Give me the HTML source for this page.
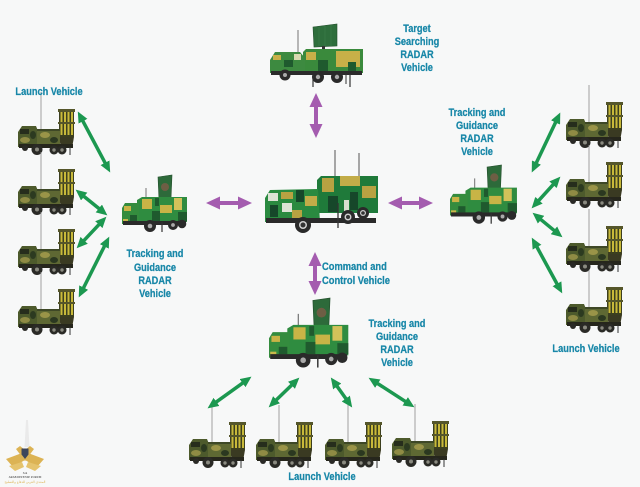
<!DOCTYPE html>
<html>
<head>
<meta charset="utf-8">
<style>
  html,body{margin:0;padding:0;background:#f7f8f8;}
  svg{display:block;}
  .lbl{font-family:"Liberation Sans",Arial,sans-serif;font-weight:bold;font-size:11px;fill:#1887a8;stroke:#1887a8;stroke-width:0.25;}
</style>
</head>
<body>
<svg width="640" height="487" viewBox="0 0 640 487" xmlns="http://www.w3.org/2000/svg">
  <defs>
    <marker id="gh" viewBox="0 0 11 10" refX="5.5" refY="5" markerWidth="11" markerHeight="10" markerUnits="userSpaceOnUse" orient="auto-start-reverse">
      <path d="M0,0 L11,5 L0,10 z" fill="#1c9850"/>
    </marker>
    <marker id="ph" viewBox="0 0 14 13" refX="7" refY="6.5" markerWidth="14" markerHeight="13" markerUnits="userSpaceOnUse" orient="auto-start-reverse">
      <path d="M0,0 L14,6.5 L0,13 z" fill="#a45caf"/>
    </marker>

    <!-- Launch vehicle -->
    <g id="lv">
      <line x1="24" y1="-18" x2="24" y2="20" stroke="#8a8a8a" stroke-width="0.8"/>
      <rect x="42" y="0" width="15" height="27" fill="#3c3f1f"/>
      <rect x="43.5" y="2" width="2" height="23" fill="#c8b93a"/>
      <rect x="47" y="2" width="2" height="23" fill="#c8b93a"/>
      <rect x="50.5" y="2" width="2" height="23" fill="#c8b93a"/>
      <rect x="54" y="2" width="2" height="23" fill="#c8b93a"/>
      <rect x="41" y="-1" width="17" height="3" fill="#55562a"/>
      <rect x="41" y="12" width="17" height="2" fill="#55562a"/>
      <polygon points="42,27 57,27 55,38 44,38" fill="#3a3a22"/>
      <polygon points="1,22 5,16 19,16 21,21 21,37 1,37" fill="#4d5a2c"/>
      <rect x="3" y="19" width="9" height="5" fill="#262d1c"/>
      <ellipse cx="8" cy="30" rx="5" ry="3" fill="#8f8b44"/>
      <ellipse cx="16" cy="25" rx="3" ry="4" fill="#2c3a20"/>
      <rect x="20" y="20" width="23" height="15" fill="#5e6833"/>
      <rect x="20" y="19" width="23" height="2" fill="#3e4826"/>
      <ellipse cx="28" cy="25" rx="5" ry="3" fill="#9a9448"/>
      <ellipse cx="37" cy="30" rx="4" ry="3" fill="#2b3820"/>
      <rect x="2" y="34" width="54" height="4" fill="#26261c"/>
      <circle cx="20" cy="39.5" r="5.5" fill="#2a2a26"/><circle cx="20" cy="39.5" r="2" fill="#8a8a80"/>
      <circle cx="37" cy="40" r="4.5" fill="#2a2a26"/><circle cx="37" cy="40" r="1.7" fill="#8a8a80"/>
      <circle cx="45" cy="40" r="4.5" fill="#2a2a26"/><circle cx="45" cy="40" r="1.7" fill="#8a8a80"/>
      <circle cx="8" cy="38" r="3" fill="#2a2a26"/>
      <line x1="53" y1="37" x2="53" y2="45" stroke="#333" stroke-width="1"/>
    </g>

    <!-- Tracking & guidance radar vehicle -->
    <g id="tr">
      <line x1="24" y1="13" x2="24" y2="33" stroke="#666" stroke-width="0.9"/>
      <polygon points="36,2 50,0 49,24 37,25" fill="#2d6a3a" stroke="#24502d" stroke-width="0.6"/>
      <circle cx="43" cy="12" r="4" fill="#8a5a48" opacity="0.7"/>
      <rect x="42" y="24" width="2" height="6" fill="#333"/>
      <polygon points="15,25 20,22 65,22 65,47 15,47" fill="#2f8c40"/>
      <rect x="20" y="24" width="10" height="10" fill="#c8b446"/>
      <rect x="38" y="30" width="12" height="8" fill="#c8b446"/>
      <rect x="52" y="23" width="8" height="12" fill="#d2c25a"/>
      <rect x="30" y="36" width="8" height="10" fill="#1f5a2e"/>
      <rect x="56" y="37" width="9" height="9" fill="#1f5a2e"/>
      <rect x="33" y="23" width="4" height="8" fill="#1f5a2e"/>
      <polygon points="0,33 3,28 17,28 17,49 0,49" fill="#348c3e"/>
      <rect x="2" y="31" width="7" height="5" fill="#c8b446"/>
      <rect x="8" y="40" width="7" height="6" fill="#1f5a2e"/>
      <rect x="1" y="44" width="5" height="4" fill="#c9b84a"/>
      <rect x="1" y="46" width="63" height="4" fill="#2a2a2a"/>
      <circle cx="28" cy="51" r="6" fill="#2a2a2a"/><circle cx="28" cy="51" r="2.3" fill="#aaa"/>
      <circle cx="51" cy="50" r="5" fill="#2a2a2a"/><circle cx="51" cy="50" r="1.9" fill="#aaa"/>
      <circle cx="60" cy="49" r="4.3" fill="#2a2a2a"/>
      <line x1="40" y1="47" x2="40" y2="57" stroke="#333" stroke-width="1.2"/>
    </g>
  </defs>

  <rect x="0" y="0" width="640" height="487" fill="#f7f8f8"/>

  <!-- Launch vehicles left -->
  <use href="#lv" transform="translate(17,110)"/>
  <use href="#lv" transform="translate(17,170)"/>
  <use href="#lv" transform="translate(17,230)"/>
  <use href="#lv" transform="translate(17,290)"/>
  <!-- Launch vehicles right -->
  <use href="#lv" transform="translate(565,103)"/>
  <use href="#lv" transform="translate(565,163)"/>
  <use href="#lv" transform="translate(565,227)"/>
  <use href="#lv" transform="translate(565,288)"/>
  <!-- Launch vehicles bottom -->
  <use href="#lv" transform="translate(188,423)"/>
  <use href="#lv" transform="translate(255,423)"/>
  <use href="#lv" transform="translate(324,423)"/>
  <use href="#lv" transform="translate(391,422)"/>

  <!-- Tracking radar vehicles -->
  <use href="#tr" transform="translate(122,175)"/>
  <use href="#tr" transform="translate(450,165) scale(1.03)"/>
  <use href="#tr" transform="translate(269,298) scale(1.22)"/>

  <!-- Target searching radar vehicle (top) -->
  <g>
    <line x1="298" y1="30" x2="298" y2="55" stroke="#666" stroke-width="0.9"/>
    <polygon points="313,27 337,24 337,46 314,47" fill="#2e6e3c" stroke="#24502d" stroke-width="0.6"/>
    <line x1="319" y1="27" x2="319" y2="46" stroke="#3d7f4a" stroke-width="0.6"/>
    <line x1="325" y1="26" x2="325" y2="46" stroke="#3d7f4a" stroke-width="0.6"/>
    <line x1="331" y1="25" x2="331" y2="46" stroke="#3d7f4a" stroke-width="0.6"/>
    <rect x="322" y="46" width="3" height="8" fill="#333"/>
    <polygon points="303,52 306,49 363,49 363,73 303,73" fill="#3a8a3c"/>
    <rect x="336" y="51" width="24" height="16" fill="#c8b048"/>
    <rect x="306" y="52" width="10" height="8" fill="#c8b048"/>
    <rect x="318" y="60" width="10" height="12" fill="#1f5a2e"/>
    <rect x="348" y="62" width="8" height="10" fill="#1f5a2e"/>
    <polygon points="270,60 275,52 300,52 305,58 305,73 270,73" fill="#3d8a40"/>
    <rect x="273" y="55" width="8" height="5" fill="#c8b048"/>
    <rect x="284" y="60" width="9" height="7" fill="#1f5a2e"/>
    <rect x="294" y="54" width="7" height="6" fill="#d7d9b0"/>
    <rect x="271" y="71" width="91" height="4" fill="#2b2b2b"/>
    <circle cx="285" cy="75" r="5.5" fill="#2a2a2a"/><circle cx="285" cy="75" r="2" fill="#aaa"/>
    <circle cx="318" cy="77" r="6" fill="#2a2a2a"/><circle cx="318" cy="77" r="2.2" fill="#aaa"/>
    <circle cx="337" cy="77" r="6" fill="#2a2a2a"/><circle cx="337" cy="77" r="2.2" fill="#aaa"/>
    <line x1="313" y1="75" x2="313" y2="87" stroke="#333" stroke-width="1.2"/>
    <line x1="350" y1="74" x2="350" y2="87" stroke="#333" stroke-width="1.2"/>
    <line x1="346" y1="74" x2="346" y2="84" stroke="#333" stroke-width="1"/>
  </g>

  <!-- Command and control vehicle (center) -->
  <g>
    <line x1="335" y1="150" x2="335" y2="178" stroke="#555" stroke-width="1"/>
    <line x1="359" y1="153" x2="359" y2="178" stroke="#555" stroke-width="1"/>
    <polygon points="317,180 321,176 378,176 378,213 317,213" fill="#1f7a3a"/>
    <rect x="322" y="178" width="12" height="14" fill="#b8a242"/>
    <rect x="340" y="176" width="20" height="10" fill="#c2ac48"/>
    <rect x="362" y="186" width="14" height="12" fill="#b8a242"/>
    <rect x="328" y="196" width="10" height="16" fill="#16472a"/>
    <rect x="350" y="192" width="8" height="18" fill="#16472a"/>
    <rect x="344" y="200" width="5" height="12" fill="#d8dfd0"/>
    <polygon points="265,198 270,190 318,189 320,222 265,222" fill="#2a8a40"/>
    <rect x="268" y="193" width="10" height="8" fill="#dde3d6"/>
    <rect x="281" y="192" width="12" height="7" fill="#b8a242"/>
    <rect x="296" y="190" width="8" height="12" fill="#16472a"/>
    <rect x="305" y="196" width="12" height="10" fill="#c2ac48"/>
    <rect x="270" y="205" width="8" height="12" fill="#16472a"/>
    <rect x="282" y="203" width="10" height="9" fill="#dde3d6"/>
    <rect x="292" y="210" width="10" height="8" fill="#b8a242"/>
    <rect x="266" y="218" width="110" height="5" fill="#2a2a2a"/>
    <circle cx="303" cy="225" r="8" fill="#2a2a2a"/><circle cx="303" cy="225" r="4" fill="#cfcfcf"/><circle cx="303" cy="225" r="2.5" fill="#333"/>
    <circle cx="348" cy="217" r="7" fill="#2a2a2a"/><circle cx="348" cy="217" r="3.5" fill="#cfcfcf"/><circle cx="348" cy="217" r="2" fill="#333"/>
    <circle cx="363" cy="213" r="6" fill="#2a2a2a"/><circle cx="363" cy="213" r="3" fill="#cfcfcf"/><circle cx="363" cy="213" r="1.8" fill="#333"/>
    <line x1="338" y1="203" x2="338" y2="228" stroke="#333" stroke-width="1.3"/>
  </g>

  <!-- Green arrows -->
  <g stroke="#1c9850" stroke-width="3.5" marker-start="url(#gh)" marker-end="url(#gh)">
    <line x1="80.4" y1="116.4" x2="107.6" y2="167.6"/>
    <line x1="79.9" y1="193.1" x2="103.1" y2="211.9"/>
    <line x1="80.4" y1="244.3" x2="102.6" y2="220.7"/>
    <line x1="81.2" y1="292.5" x2="106.8" y2="241.5"/>
    <line x1="557.9" y1="117.5" x2="534.1" y2="167.5"/>
    <line x1="556.7" y1="180.7" x2="535.3" y2="204.3"/>
    <line x1="536.8" y1="216.2" x2="558.2" y2="233.8"/>
    <line x1="534.4" y1="242.4" x2="559.6" y2="288.6"/>
    <line x1="212" y1="405.1" x2="247" y2="379.9"/>
    <line x1="272.6" y1="403.5" x2="295.4" y2="381.5"/>
    <line x1="334" y1="382" x2="349" y2="403"/>
    <line x1="373.2" y1="380.7" x2="409.8" y2="404.3"/>
  </g>

  <!-- Purple arrows -->
  <g stroke="#a45caf" stroke-width="4" marker-start="url(#ph)" marker-end="url(#ph)">
    <line x1="213" y1="203" x2="245" y2="203"/>
    <line x1="395" y1="203" x2="426" y2="203"/>
    <line x1="316" y1="100" x2="316" y2="131"/>
    <line x1="315" y1="259" x2="315" y2="288"/>
  </g>

  <!-- Labels -->
  <g class="lbl">
    <g transform="translate(49,0) scale(0.84,1)" text-anchor="middle">
      <text x="0" y="95">Launch Vehicle</text>
    </g>
    <g transform="translate(417,0) scale(0.84,1)" text-anchor="middle">
      <text x="0" y="32">Target</text>
      <text x="0" y="45">Searching</text>
      <text x="0" y="58">RADAR</text>
      <text x="0" y="71">Vehicle</text>
    </g>
    <g transform="translate(477,0) scale(0.84,1)" text-anchor="middle">
      <text x="0" y="116">Tracking and</text>
      <text x="0" y="129">Guidance</text>
      <text x="0" y="142">RADAR</text>
      <text x="0" y="155">Vehicle</text>
    </g>
    <g transform="translate(155,0) scale(0.84,1)" text-anchor="middle">
      <text x="0" y="257">Tracking and</text>
      <text x="0" y="271">Guidance</text>
      <text x="0" y="284">RADAR</text>
      <text x="0" y="297">Vehicle</text>
    </g>
    <g transform="translate(322,0) scale(0.85,1)" text-anchor="start">
      <text x="0" y="270">Command and</text>
      <text x="0" y="284">Control Vehicle</text>
    </g>
    <g transform="translate(397,0) scale(0.84,1)" text-anchor="middle">
      <text x="0" y="327">Tracking and</text>
      <text x="0" y="340">Guidance</text>
      <text x="0" y="353">RADAR</text>
      <text x="0" y="366">Vehicle</text>
    </g>
    <g transform="translate(586,0) scale(0.84,1)" text-anchor="middle">
      <text x="0" y="352">Launch Vehicle</text>
    </g>
    <g transform="translate(322,0) scale(0.84,1)" text-anchor="middle">
      <text x="0" y="480">Launch Vehicle</text>
    </g>
  </g>

  <!-- Logo bottom-left -->
  <g opacity="0.85">
    <polygon points="26,420 28,420 29.5,447 24.5,447" fill="#e8e8e8"/>
    <polygon points="6,459 22,453 25,460 13,467" fill="#d8a838"/>
    <polygon points="44,459 28,453 25,460 37,467" fill="#d8a838"/>
    <polygon points="9,466 22,462 24,467 15,471" fill="#e2ba55"/>
    <polygon points="41,466 28,462 26,467 35,471" fill="#e2ba55"/>
    <polygon points="20,446 25,450 30,446 34,449 25,461 16,449" fill="#d8a838"/>
    <polygon points="21.5,448.5 28.5,448.5 28.5,454.5 25,459 21.5,454.5" fill="#1c2840"/>
    <text x="25" y="474" font-family="Liberation Serif, serif" font-size="3.5" font-weight="bold" fill="#444" text-anchor="middle">SA</text>
    <text x="25" y="478" font-family="Liberation Serif, serif" font-size="2.8" font-weight="bold" fill="#444" text-anchor="middle">ARAB DEFENSE FORUM</text>
    <text x="25" y="483" font-family="DejaVu Sans, sans-serif" font-size="3.2" fill="#d8a838" text-anchor="middle">المنتدى العربي للدفاع والتسليح</text>
  </g>
</svg>
</body>
</html>
